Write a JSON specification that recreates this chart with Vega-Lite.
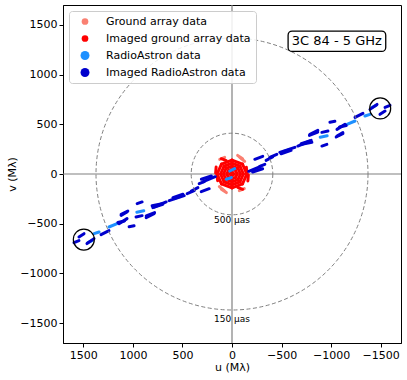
{
  "$schema": "https://vega.github.io/schema/vega-lite/v6.json",
  "width": 338,
  "height": 338,
  "autosize": "none",
  "padding": {"left": 63, "top": 5, "right": 6, "bottom": 37},
  "config": {
    "font": "DejaVu Sans",
    "view": {"stroke": "black", "strokeWidth": 1},
    "axis": {"grid": false, "domainColor": "black", "tickColor": "black", "labelColor": "black", "titleColor": "black", "labelFontSize": 11, "titleFontSize": 11, "titleFontWeight": "normal", "tickSize": 4, "labelPadding": 2}
  },
  "datasets": {
    "tracks": [
      {"type": "Ground array data", "u1": 124, "v1": 147, "u2": 74, "v2": 167},
      {"type": "Ground array data", "u1": -78, "v1": 167, "u2": -128, "v2": 127},
      {"type": "Ground array data", "u1": 107, "v1": -154, "u2": 57, "v2": -187},
      {"type": "Ground array data", "u1": -124, "v1": -147, "u2": -74, "v2": -167},
      {"type": "Ground array data", "u1": 78, "v1": -167, "u2": 128, "v2": -127},
      {"type": "Ground array data", "u1": -107, "v1": 154, "u2": -57, "v2": 187},
      {"type": "Imaged ground array data", "u1": 160, "v1": 70, "u2": 165, "v2": 10},
      {"type": "Imaged ground array data", "u1": -160, "v1": -70, "u2": -165, "v2": -10},
      {"type": "Imaged ground array data", "u1": -145, "v1": 67, "u2": -150, "v2": 0},
      {"type": "Imaged ground array data", "u1": 145, "v1": -67, "u2": 150, "v2": 0},
      {"type": "Imaged ground array data", "u1": -58, "v1": -134, "u2": -108, "v2": -154},
      {"type": "Imaged ground array data", "u1": 58, "v1": 134, "u2": 108, "v2": 154},
      {"type": "Imaged ground array data", "u1": 150, "v1": 0, "u2": 106, "v2": 99},
      {"type": "Imaged ground array data", "u1": 106, "v1": 99, "u2": 0, "v2": 140},
      {"type": "Imaged ground array data", "u1": 0, "v1": 140, "u2": -106, "v2": 99},
      {"type": "Imaged ground array data", "u1": -106, "v1": 99, "u2": -150, "v2": 0},
      {"type": "Imaged ground array data", "u1": -150, "v1": 0, "u2": -106, "v2": -99},
      {"type": "Imaged ground array data", "u1": -106, "v1": -99, "u2": 0, "v2": -140},
      {"type": "Imaged ground array data", "u1": 0, "v1": -140, "u2": 106, "v2": -99},
      {"type": "Imaged ground array data", "u1": 106, "v1": -99, "u2": 150, "v2": 0},
      {"type": "Imaged ground array data", "u1": 115, "v1": 0, "u2": 81, "v2": 78},
      {"type": "Imaged ground array data", "u1": 81, "v1": 78, "u2": 0, "v2": 110},
      {"type": "Imaged ground array data", "u1": 0, "v1": 110, "u2": -81, "v2": 78},
      {"type": "Imaged ground array data", "u1": -81, "v1": 78, "u2": -115, "v2": 0},
      {"type": "Imaged ground array data", "u1": -115, "v1": 0, "u2": -81, "v2": -78},
      {"type": "Imaged ground array data", "u1": -81, "v1": -78, "u2": 0, "v2": -110},
      {"type": "Imaged ground array data", "u1": 0, "v1": -110, "u2": 81, "v2": -78},
      {"type": "Imaged ground array data", "u1": 81, "v1": -78, "u2": 115, "v2": 0},
      {"type": "Imaged ground array data", "u1": 85, "v1": 0, "u2": 60, "v2": 57},
      {"type": "Imaged ground array data", "u1": 60, "v1": 57, "u2": 0, "v2": 80},
      {"type": "Imaged ground array data", "u1": 0, "v1": 80, "u2": -60, "v2": 57},
      {"type": "Imaged ground array data", "u1": -60, "v1": 57, "u2": -85, "v2": 0},
      {"type": "Imaged ground array data", "u1": -85, "v1": 0, "u2": -60, "v2": -57},
      {"type": "Imaged ground array data", "u1": -60, "v1": -57, "u2": 0, "v2": -80},
      {"type": "Imaged ground array data", "u1": 0, "v1": -80, "u2": 60, "v2": -57},
      {"type": "Imaged ground array data", "u1": 60, "v1": -57, "u2": 85, "v2": 0},
      {"type": "Imaged ground array data", "u1": 52, "v1": 0, "u2": 37, "v2": 35},
      {"type": "Imaged ground array data", "u1": 37, "v1": 35, "u2": 0, "v2": 50},
      {"type": "Imaged ground array data", "u1": 0, "v1": 50, "u2": -37, "v2": 35},
      {"type": "Imaged ground array data", "u1": -37, "v1": 35, "u2": -52, "v2": 0},
      {"type": "Imaged ground array data", "u1": -52, "v1": 0, "u2": -37, "v2": -35},
      {"type": "Imaged ground array data", "u1": -37, "v1": -35, "u2": 0, "v2": -50},
      {"type": "Imaged ground array data", "u1": 0, "v1": -50, "u2": 37, "v2": -35},
      {"type": "Imaged ground array data", "u1": 37, "v1": -35, "u2": 52, "v2": 0},
      {"type": "Imaged ground array data", "u1": 22, "v1": 0, "u2": 0, "v2": 20},
      {"type": "Imaged ground array data", "u1": 0, "v1": 20, "u2": -22, "v2": 0},
      {"type": "Imaged ground array data", "u1": -22, "v1": 0, "u2": 0, "v2": -20},
      {"type": "Imaged ground array data", "u1": 0, "v1": -20, "u2": 22, "v2": 0},
      {"type": "RadioAstron data", "u1": -522, "v1": 228, "u2": -583, "v2": 248},
      {"type": "RadioAstron data", "u1": -890, "v1": 370, "u2": -960, "v2": 385},
      {"type": "RadioAstron data", "u1": -1160, "v1": 500, "u2": -1241, "v2": 533},
      {"type": "RadioAstron data", "u1": -1341, "v1": 583, "u2": -1392, "v2": 600},
      {"type": "RadioAstron data", "u1": -1412, "v1": 670, "u2": -1453, "v2": 690},
      {"type": "RadioAstron data", "u1": 522, "v1": -228, "u2": 583, "v2": -248},
      {"type": "RadioAstron data", "u1": 890, "v1": -370, "u2": 960, "v2": -385},
      {"type": "RadioAstron data", "u1": 1160, "v1": -500, "u2": 1241, "v2": -533},
      {"type": "RadioAstron data", "u1": 1341, "v1": -583, "u2": 1392, "v2": -600},
      {"type": "RadioAstron data", "u1": 1412, "v1": -670, "u2": 1453, "v2": -690},
      {"type": "RadioAstron data", "u1": 23, "v1": 30, "u2": -27, "v2": 54},
      {"type": "RadioAstron data", "u1": 57, "v1": -53, "u2": 6, "v2": -36},
      {"type": "Imaged RadioAstron data", "u1": -169, "v1": 27, "u2": -290, "v2": 77},
      {"type": "Imaged RadioAstron data", "u1": -230, "v1": 148, "u2": -310, "v2": 178},
      {"type": "Imaged RadioAstron data", "u1": -280, "v1": 77, "u2": -331, "v2": 97},
      {"type": "Imaged RadioAstron data", "u1": -381, "v1": 168, "u2": -452, "v2": 198},
      {"type": "Imaged RadioAstron data", "u1": -482, "v1": 218, "u2": -634, "v2": 268},
      {"type": "Imaged RadioAstron data", "u1": -664, "v1": 281, "u2": -786, "v2": 332},
      {"type": "Imaged RadioAstron data", "u1": -705, "v1": 298, "u2": -806, "v2": 319},
      {"type": "Imaged RadioAstron data", "u1": -786, "v1": 399, "u2": -866, "v2": 439},
      {"type": "Imaged RadioAstron data", "u1": -907, "v1": 419, "u2": -968, "v2": 432},
      {"type": "Imaged RadioAstron data", "u1": -907, "v1": 281, "u2": -957, "v2": 298},
      {"type": "Imaged RadioAstron data", "u1": -988, "v1": 520, "u2": -1038, "v2": 530},
      {"type": "Imaged RadioAstron data", "u1": -1059, "v1": 449, "u2": -1140, "v2": 500},
      {"type": "Imaged RadioAstron data", "u1": -1059, "v1": 382, "u2": -1119, "v2": 416},
      {"type": "Imaged RadioAstron data", "u1": -1241, "v1": 570, "u2": -1321, "v2": 610},
      {"type": "Imaged RadioAstron data", "u1": -1392, "v1": 650, "u2": -1463, "v2": 700},
      {"type": "Imaged RadioAstron data", "u1": -1493, "v1": 600, "u2": -1544, "v2": 633},
      {"type": "Imaged RadioAstron data", "u1": -1544, "v1": 670, "u2": -1594, "v2": 690},
      {"type": "Imaged RadioAstron data", "u1": -208, "v1": 20, "u2": -309, "v2": 53},
      {"type": "Imaged RadioAstron data", "u1": -344, "v1": 137, "u2": -410, "v2": 171},
      {"type": "Imaged RadioAstron data", "u1": -495, "v1": 204, "u2": -596, "v2": 237},
      {"type": "Imaged RadioAstron data", "u1": -698, "v1": 305, "u2": -799, "v2": 338},
      {"type": "Imaged RadioAstron data", "u1": -1051, "v1": 372, "u2": -1118, "v2": 405},
      {"type": "Imaged RadioAstron data", "u1": -781, "v1": 388, "u2": -865, "v2": 422},
      {"type": "Imaged RadioAstron data", "u1": -1085, "v1": 472, "u2": -1152, "v2": 488},
      {"type": "Imaged RadioAstron data", "u1": 169, "v1": -27, "u2": 290, "v2": -77},
      {"type": "Imaged RadioAstron data", "u1": 230, "v1": -148, "u2": 310, "v2": -178},
      {"type": "Imaged RadioAstron data", "u1": 280, "v1": -77, "u2": 331, "v2": -97},
      {"type": "Imaged RadioAstron data", "u1": 381, "v1": -168, "u2": 452, "v2": -198},
      {"type": "Imaged RadioAstron data", "u1": 482, "v1": -218, "u2": 634, "v2": -268},
      {"type": "Imaged RadioAstron data", "u1": 664, "v1": -281, "u2": 786, "v2": -332},
      {"type": "Imaged RadioAstron data", "u1": 705, "v1": -298, "u2": 806, "v2": -319},
      {"type": "Imaged RadioAstron data", "u1": 786, "v1": -399, "u2": 866, "v2": -439},
      {"type": "Imaged RadioAstron data", "u1": 907, "v1": -419, "u2": 968, "v2": -432},
      {"type": "Imaged RadioAstron data", "u1": 907, "v1": -281, "u2": 957, "v2": -298},
      {"type": "Imaged RadioAstron data", "u1": 988, "v1": -520, "u2": 1038, "v2": -530},
      {"type": "Imaged RadioAstron data", "u1": 1059, "v1": -449, "u2": 1140, "v2": -500},
      {"type": "Imaged RadioAstron data", "u1": 1059, "v1": -382, "u2": 1119, "v2": -416},
      {"type": "Imaged RadioAstron data", "u1": 1241, "v1": -570, "u2": 1321, "v2": -610},
      {"type": "Imaged RadioAstron data", "u1": 1392, "v1": -650, "u2": 1463, "v2": -700},
      {"type": "Imaged RadioAstron data", "u1": 1493, "v1": -600, "u2": 1544, "v2": -633},
      {"type": "Imaged RadioAstron data", "u1": 1544, "v1": -670, "u2": 1594, "v2": -690},
      {"type": "Imaged RadioAstron data", "u1": 208, "v1": -20, "u2": 309, "v2": -53},
      {"type": "Imaged RadioAstron data", "u1": 344, "v1": -137, "u2": 410, "v2": -171},
      {"type": "Imaged RadioAstron data", "u1": 495, "v1": -204, "u2": 596, "v2": -237},
      {"type": "Imaged RadioAstron data", "u1": 698, "v1": -305, "u2": 799, "v2": -338},
      {"type": "Imaged RadioAstron data", "u1": 1051, "v1": -372, "u2": 1118, "v2": -405},
      {"type": "Imaged RadioAstron data", "u1": 781, "v1": -388, "u2": 865, "v2": -422},
      {"type": "Imaged RadioAstron data", "u1": 1085, "v1": -472, "u2": 1152, "v2": -488}
    ],
    "origin": [{"u": 0, "v": 0}],
    "marks": [{"u": -1495, "v": 660}, {"u": 1495, "v": -660}],
    "ringlabels": [{"u": 0, "v": -460, "label": "500 μas"}, {"u": 0, "v": -1460, "label": "150 μas"}],
    "box": [{"u1": -566, "u2": -1551, "v1": 1437, "v2": 1233, "uc": -1058, "vc": 1335, "label": "3C 84 - 5 GHz"}]
  },
  "layer": [
    {
      "data": {"name": "origin"},
      "mark": {"type": "rule", "color": "#808080", "strokeWidth": 1.2},
      "encoding": {"x": {"field": "u", "type": "quantitative", "title": "u (Mλ)"}}
    },
    {
      "data": {"name": "origin"},
      "mark": {"type": "rule", "color": "#808080", "strokeWidth": 1.2},
      "encoding": {"y": {"field": "v", "type": "quantitative", "title": "v (Mλ)"}}
    },
    {
      "data": {"name": "tracks"},
      "mark": {"type": "rule", "strokeWidth": 3, "strokeCap": "round"},
      "encoding": {
        "x": {"field": "u1", "type": "quantitative", "title": "u (Mλ)",
              "scale": {"domain": [-1705, 1705], "reverse": true, "nice": false, "zero": false},
              "axis": {"values": [-1500, -1000, -500, 0, 500, 1000, 1500], "format": "d", "titlePadding": 1}},
        "y": {"field": "v1", "type": "quantitative", "title": "v (Mλ)",
              "scale": {"domain": [-1700, 1700], "nice": false, "zero": false},
              "axis": {"values": [-1500, -1000, -500, 0, 500, 1000, 1500], "format": "d", "titlePadding": 2}},
        "x2": {"field": "u2"},
        "y2": {"field": "v2"},
        "color": {
          "field": "type", "type": "nominal",
          "scale": {"domain": ["Ground array data", "Imaged ground array data", "RadioAstron data", "Imaged RadioAstron data"],
                    "range": ["#FA8072", "#FF0000", "#1E90FF", "#0000CD"]},
          "legend": {
            "title": null, "orient": "top-left", "offset": 6, "padding": 5,
            "fillColor": "rgba(255,255,255,0.85)", "strokeColor": "#cccccc", "cornerRadius": 3,
            "symbolType": "circle", "symbolSize": 80, "symbolStrokeWidth": 0,
            "labelFontSize": 11, "labelOffset": 15, "rowPadding": 5, "labelColor": "black",
            "encode": {
              "symbols": {"update": {
                "fill": {"scale": "color", "field": "value"},
                "opacity": {"value": 1},
                "strokeWidth": {"value": 0},
                "x": {"value": 11},
                "size": {"signal": "indexof(['RadioAstron data','Imaged RadioAstron data'], datum.value) >= 0 ? 80 : 45"}
              }},
              "labels": {"update": {"x": {"value": 32}}}
            }
          }
        }
      }
    },
    {
      "data": {"name": "origin"},
      "mark": {"type": "point", "filled": false, "size": 73984, "stroke": "#808080", "strokeWidth": 1, "strokeDash": [4, 2.5], "opacity": 1},
      "encoding": {"x": {"field": "u", "type": "quantitative", "title": "u (Mλ)"}, "y": {"field": "v", "type": "quantitative", "title": "v (Mλ)"}}
    },
    {
      "data": {"name": "origin"},
      "mark": {"type": "point", "filled": false, "size": 6659, "stroke": "#808080", "strokeWidth": 1, "strokeDash": [4, 2.5], "opacity": 1},
      "encoding": {"x": {"field": "u", "type": "quantitative", "title": "u (Mλ)"}, "y": {"field": "v", "type": "quantitative", "title": "v (Mλ)"}}
    },
    {
      "data": {"name": "marks"},
      "mark": {"type": "point", "filled": false, "size": 441, "stroke": "black", "strokeWidth": 1.2, "opacity": 1},
      "encoding": {"x": {"field": "u", "type": "quantitative", "title": "u (Mλ)"}, "y": {"field": "v", "type": "quantitative", "title": "v (Mλ)"}}
    },
    {
      "data": {"name": "ringlabels"},
      "mark": {"type": "text", "fontSize": 9, "color": "black", "baseline": "middle", "align": "center"},
      "encoding": {"x": {"field": "u", "type": "quantitative", "title": "u (Mλ)"}, "y": {"field": "v", "type": "quantitative", "title": "v (Mλ)"}, "text": {"field": "label"}}
    },
    {
      "data": {"name": "box"},
      "mark": {"type": "rect", "fill": "white", "stroke": "black", "strokeWidth": 1.3, "cornerRadius": 4},
      "encoding": {"x": {"field": "u1", "type": "quantitative", "title": "u (Mλ)"}, "x2": {"field": "u2"}, "y": {"field": "v1", "type": "quantitative", "title": "v (Mλ)"}, "y2": {"field": "v2"}}
    },
    {
      "data": {"name": "box"},
      "mark": {"type": "text", "fontSize": 13, "color": "black", "baseline": "middle", "align": "center"},
      "encoding": {"x": {"field": "uc", "type": "quantitative", "title": "u (Mλ)"}, "y": {"field": "vc", "type": "quantitative", "title": "v (Mλ)"}, "text": {"field": "label"}}
    }
  ]
}
